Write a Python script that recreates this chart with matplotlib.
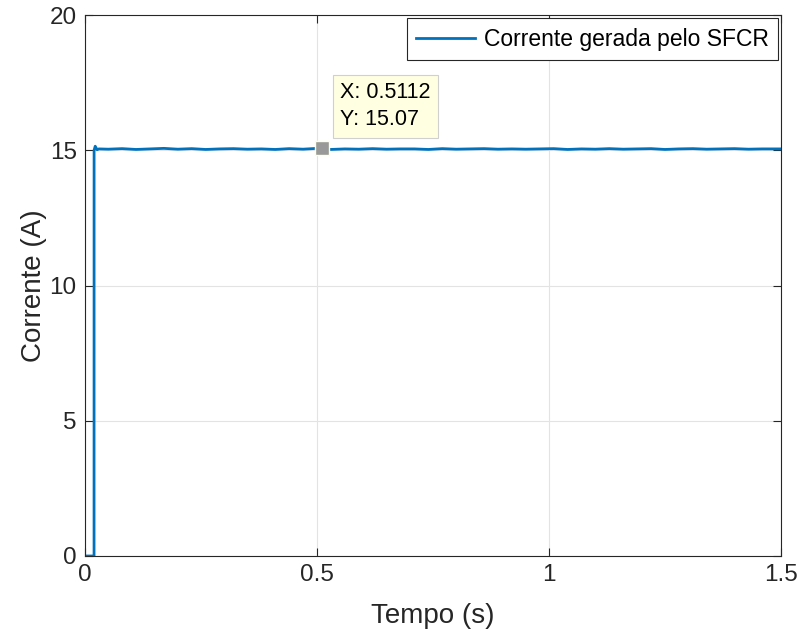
import matplotlib
matplotlib.use('Agg')
import matplotlib.pyplot as plt

plt.rcParams['font.family'] = ['Liberation Sans', 'DejaVu Sans']

# corrente gerada
tempo = [0.0, 0.0195, 0.0196, 0.022, 0.026, 0.03, 0.05, 0.08, 0.11, 0.14, 0.17, 0.2,
         0.23, 0.26, 0.29, 0.32, 0.35, 0.38, 0.41, 0.44, 0.47, 0.5, 0.53, 0.56,
         0.59, 0.62, 0.65, 0.68, 0.71, 0.74, 0.77, 0.8, 0.83, 0.86, 0.89, 0.92,
         0.95, 0.98, 1.01, 1.04, 1.07, 1.1, 1.13, 1.16, 1.19, 1.22, 1.25, 1.28,
         1.31, 1.34, 1.37, 1.4, 1.43, 1.46, 1.5]
corrente = [0.0, 0.0, 15.0, 15.15, 15.02, 15.05, 15.04, 15.06, 15.03, 15.05, 15.07, 15.04,
            15.06, 15.03, 15.05, 15.06, 15.04, 15.05, 15.03, 15.06, 15.04, 15.07, 15.03, 15.05,
            15.04, 15.06, 15.04, 15.05, 15.05, 15.03, 15.06, 15.04, 15.05, 15.06, 15.04, 15.05,
            15.04, 15.05, 15.06, 15.03, 15.05, 15.04, 15.06, 15.04, 15.05, 15.06, 15.03, 15.05,
            15.06, 15.04, 15.05, 15.06, 15.04, 15.05, 15.05]

tip_x = 0.5112
tip_y = 15.07

fig = plt.figure(figsize=(8, 6.39), dpi=100)
ax = fig.add_axes([0.10625, 0.1299, 0.87, 0.8466])

ax.plot(tempo, corrente, color='#0072BD', linewidth=2, label='Corrente gerada pelo SFCR')

# data tip estilo MATLAB
ax.plot([tip_x], [tip_y], marker='s', markersize=10, color='#999999',
        markeredgecolor='#ffffe1', markeredgewidth=1, zorder=5)
ax.annotate(f'X: {tip_x}\nY: {tip_y}', xy=(tip_x, tip_y), xytext=(0.55, 15.75),
            fontsize=15.5, ha='left', va='bottom', linespacing=1.35,
            bbox=dict(boxstyle='square,pad=0.35', facecolor='#ffffe1', edgecolor='#d0d0d0', linewidth=0.8),
            zorder=6)

ax.set_xlim(0, 1.5)
ax.set_ylim(0, 20)
ax.set_xticks([0, 0.5, 1, 1.5])
ax.set_xticklabels(['0', '0.5', '1', '1.5'])
ax.set_yticks([0, 5, 10, 15, 20])
ax.grid(True, color='#e3e3e3', linewidth=0.8)
ax.set_axisbelow(True)
ax.tick_params(direction='in', labelsize=17.5, length=6, color='#262626', labelcolor='#262626',
               top=True, right=True, pad=6)
for s in ax.spines.values():
    s.set_color('#262626')
    s.set_linewidth(0.8)

ax.set_xlabel('Tempo (s)', fontsize=20, color='#262626', labelpad=12)
ax.set_ylabel('Corrente (A)', fontsize=20, color='#262626', labelpad=2)

leg = ax.legend(loc='upper right', fontsize=16.5, fancybox=False, framealpha=1,
                edgecolor='#262626', borderaxespad=0.15, handlelength=2.6,
                handletextpad=0.35, borderpad=0.4)
leg.get_frame().set_linewidth(0.8)

fig.savefig('out.png', dpi=100)
